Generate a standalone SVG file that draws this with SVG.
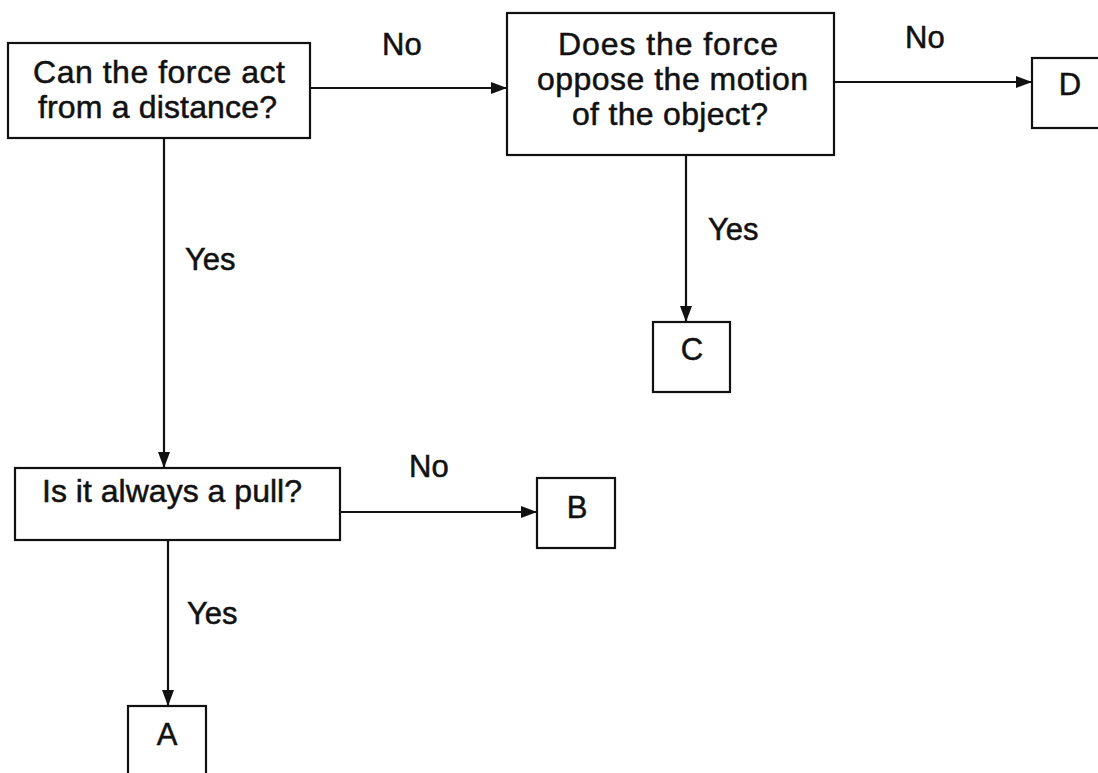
<svg xmlns="http://www.w3.org/2000/svg" width="1098" height="773" viewBox="0 0 1098 773">
  <style>
    .box { fill: #fff; stroke: #111; stroke-width: 2.2; }
    .lbl { font-family: "Liberation Sans", Arial, sans-serif; font-size: 31px; fill: #111; stroke: #111; stroke-width: 0.5; }
    .big { font-size: 32px; }
    .mid { text-anchor: middle; }
    .edge { stroke: #111; stroke-width: 2.2; fill: none; marker-end: url(#head); }
  </style>
  <defs>
    <marker id="head" viewBox="0 0 16 12" refX="16" refY="6" markerWidth="16" markerHeight="12" markerUnits="userSpaceOnUse" orient="auto">
      <path d="M0,0 L16,6 L0,12 Z" fill="#111"/>
    </marker>
  </defs>
  <rect width="1098" height="773" fill="#fff"/>

  <g id="connectors">
    <line class="edge" x1="310" y1="88" x2="507" y2="88"/>
    <line class="edge" x1="834" y1="82" x2="1032" y2="82"/>
    <line class="edge" x1="686" y1="155" x2="686" y2="322"/>
    <line class="edge" x1="164" y1="138" x2="164" y2="468"/>
    <line class="edge" x1="340" y1="512" x2="537" y2="512"/>
    <line class="edge" x1="168" y1="540" x2="168" y2="706"/>
    <text class="lbl" x="382" y="55">No</text>
    <text class="lbl" x="905" y="48">No</text>
    <text class="lbl" x="185" y="270">Yes</text>
    <text class="lbl" x="708" y="240">Yes</text>
    <text class="lbl" x="409" y="477">No</text>
    <text class="lbl" x="187" y="624">Yes</text>
  </g>

  <g id="q-distance">
    <rect class="box" x="8" y="43" width="302" height="95"/>
    <text class="lbl big" x="33" y="83" textLength="252" lengthAdjust="spacing">Can the force act</text>
    <text class="lbl big" x="38" y="118" textLength="239" lengthAdjust="spacing">from a distance?</text>
  </g>

  <g id="q-oppose">
    <rect class="box" x="507" y="13" width="327" height="142"/>
    <text class="lbl big" x="558" y="55" textLength="220" lengthAdjust="spacing">Does the force</text>
    <text class="lbl big" x="537" y="90" textLength="271" lengthAdjust="spacing">oppose the motion</text>
    <text class="lbl big" x="572" y="125" textLength="196" lengthAdjust="spacing">of the object?</text>
  </g>

  <g id="q-pull">
    <rect class="box" x="15" y="468" width="325" height="72"/>
    <text class="lbl big" x="42" y="502" textLength="260" lengthAdjust="spacing">Is it always a pull?</text>
  </g>

  <g id="a">
    <rect class="box" x="128" y="706" width="78" height="80"/>
    <text class="lbl mid" x="167" y="745">A</text>
  </g>

  <g id="b">
    <rect class="box" x="537" y="478" width="78" height="70"/>
    <text class="lbl mid" x="577" y="518">B</text>
  </g>

  <g id="c">
    <rect class="box" x="653" y="322" width="77" height="70"/>
    <text class="lbl mid" x="692" y="360">C</text>
  </g>

  <g id="d">
    <rect class="box" x="1032" y="58" width="90" height="70"/>
    <text class="lbl mid" x="1070" y="95">D</text>
  </g>
</svg>
